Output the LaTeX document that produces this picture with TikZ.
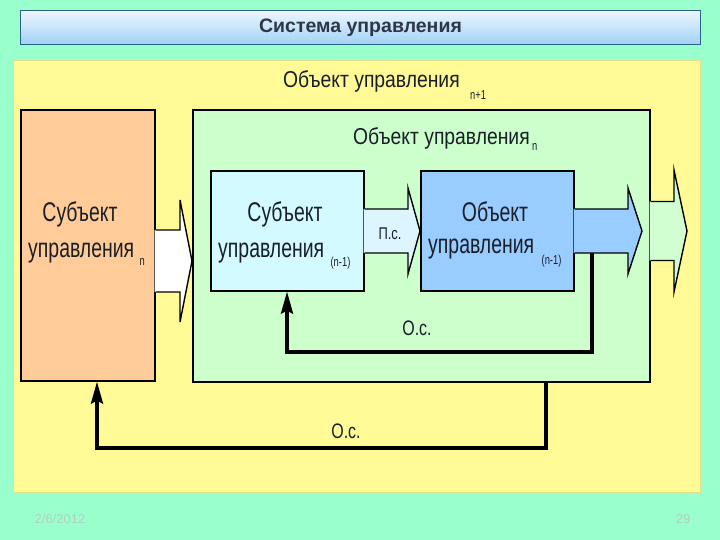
\documentclass[tikz,border=0pt]{standalone}
\usepackage{fontspec}
\setmainfont{Liberation Sans}
\newfontfamily\narfont[FakeStretch=0.72]{Liberation Sans}
\newfontfamily\hdrfont[FakeStretch=0.84]{Liberation Sans}
\newfontfamily\labfont[FakeStretch=0.76]{Liberation Sans}
\usetikzlibrary{arrows.meta,calc}
\definecolor{bgmint}{RGB}{153,255,204}
\definecolor{panelyel}{RGB}{255,250,150}
\definecolor{paneledge}{RGB}{225,225,140}
\definecolor{boxorange}{RGB}{255,204,153}
\definecolor{boxgreen}{RGB}{204,255,204}
\definecolor{boxcyan}{RGB}{210,250,255}
\definecolor{boxblue}{RGB}{153,204,255}
\definecolor{arrcyan}{RGB}{220,245,255}
\definecolor{arrgreen}{RGB}{210,255,210}
\definecolor{txtdark}{RGB}{25,30,40}
\definecolor{titletxt}{RGB}{45,55,70}
\definecolor{titletop}{RGB}{238,246,255}
\definecolor{titlebot}{RGB}{160,210,245}
\definecolor{titleedge}{RGB}{40,100,130}
\definecolor{footertxt}{RGB}{178,208,194}
\newcommand\blockarr[6]{%
  \fill[#6] let \p1=#1, \p2=#2 in
    (\x1-1pt,\y2+#3) -- (\x2-#5,\y2+#3) -- (\x2-#5,\y2+#4) -- (\x2,\y2)
    -- (\x2-#5,\y2-#4) -- (\x2-#5,\y2-#3) -- (\x1-1pt,\y2-#3) -- cycle;
  \draw[blockarrow] let \p1=#1, \p2=#2 in
    (\x1,\y2+#3) -- (\x2-#5,\y2+#3) -- (\x2-#5,\y2+#4) -- (\x2,\y2)
    -- (\x2-#5,\y2-#4) -- (\x2-#5,\y2-#3) -- (\x1,\y2-#3);
}
\begin{document}
\begin{tikzpicture}[x=1pt,y=-1pt,
  box/.style={draw=black, line width=1.6pt, anchor=north west, inner sep=0pt},
  btext/.style={text=txtdark, font=\narfont\fontsize{27}{30}\selectfont, inner sep=0pt},
  htext/.style={text=txtdark, font=\hdrfont\fontsize{23}{25}\selectfont, inner sep=0pt},
  subtext/.style={text=txtdark, font=\narfont\fontsize{13}{14}\selectfont, inner sep=0pt},
  ltext/.style={text=txtdark, font=\labfont\fontsize{21}{23}\selectfont, inner sep=0pt},
  blockarrow/.style={line width=1.4pt, draw=black, line join=miter},
  fb/.style={line width=3.5pt, draw=black, -{Stealth[length=22pt,width=12pt,inset=3pt]}},
  foot/.style={text=footertxt, font=\fontsize{13}{14}\selectfont, inner sep=0pt},
]
\useasboundingbox (0,0) rectangle (720,540);
\fill[bgmint] (0,0) rectangle (720,540);

% title bar
\node[anchor=north west, minimum width=680pt, minimum height=34pt, inner sep=0pt,
      top color=titletop, bottom color=titlebot, draw=titleedge, line width=1pt,
      text=titletxt, font=\bfseries\fontsize{19.5}{21}\selectfont] (title) at (20,10) {Система управления};

% yellow panel
\node[anchor=north west, minimum width=687pt, minimum height=432pt, inner sep=0pt,
      fill=panelyel, draw=paneledge, line width=1pt] (panel) at (13,60) {};

% boxes
\node[box, fill=boxorange, minimum width=134pt, minimum height=271pt] (subjn) at (20,109) {};
\node[box, fill=boxgreen, minimum width=457pt, minimum height=272pt] (objn) at (192,109) {};
\node[box, fill=boxcyan, minimum width=153pt, minimum height=120pt] (subjm) at (210,170) {};
\node[box, fill=boxblue, minimum width=153pt, minimum height=120pt] (objm) at (420,170) {};

% headers
\node[htext, anchor=base west] (hdr1) at (283,88) {Объект управления};
\node[subtext, anchor=base west] (hdr1s) at ($(hdr1.base east)+(10,12)$) {n+1};
\node[htext, anchor=base west] (hdr2) at (353,145) {Объект управления};
\node[subtext, anchor=base west] (hdr2s) at ($(hdr2.base east)+(2,6)$) {n};

% box texts
\node[btext, anchor=base] (t1a) at (80,222) {Субъект};
\node[btext, anchor=base west] (t1b) at (28,258) {управления};
\node[subtext, anchor=base west] (t1s) at ($(t1b.base east)+(5,7)$) {n};

\node[btext, anchor=base] (t2a) at (285,222) {Субъект};
\node[btext, anchor=base west] (t2b) at (218,257) {управления};
\node[subtext, anchor=base west] (t2s) at ($(t2b.base east)+(6,9)$) {(n-1)};

\node[btext, anchor=base] (t3a) at (495,222) {Объект};
\node[btext, anchor=base west] (t3b) at (428,253) {управления};
\node[subtext, anchor=base west] (t3s) at ($(t3b.base east)+(7,11)$) {(n-1)};

% block arrows
\coordinate (a1) at (0,261);
\coordinate (a2) at (0,231);
\coordinate (a3tip) at (642,231);
\coordinate (a4tip) at (687,231);
\blockarr{(subjn.east)}{(objn.west |- a1)}{31pt}{61pt}{12pt}{white}
\blockarr{(subjm.east)}{(objm.west |- a2)}{22pt}{43pt}{12pt}{arrcyan}
\blockarr{(objm.east)}{(a3tip)}{22pt}{43pt}{14pt}{boxblue}
\blockarr{(objn.east)}{(a4tip)}{29.5pt}{61pt}{13pt}{arrgreen}
\node[ltext, font=\labfont\fontsize{17}{19}\selectfont] (ps) at (390,234) {П.с.};

% feedback loops
\coordinate (fi) at (592,253);
\coordinate (fiy) at (0,352);
\coordinate (fix) at (287,0);
\draw[fb] (fi) -- (fi |- fiy) -- (fix |- fiy) -- (fix |- subjm.south);
\node[ltext] (os1) at (417,328) {О.с.};

\coordinate (fox) at (546,0);
\coordinate (foy) at (0,448);
\coordinate (fol) at (97,0);
\draw[fb] (fox |- objn.south) -- (fox |- foy) -- (fol |- foy) -- (fol |- subjn.south);
\node[ltext] (os2) at (346,431) {О.с.};

% footer
\node[foot] (date) at (60,519) {2/6/2012};
\node[foot] (page) at (683,519) {29};
\end{tikzpicture}
\end{document}
